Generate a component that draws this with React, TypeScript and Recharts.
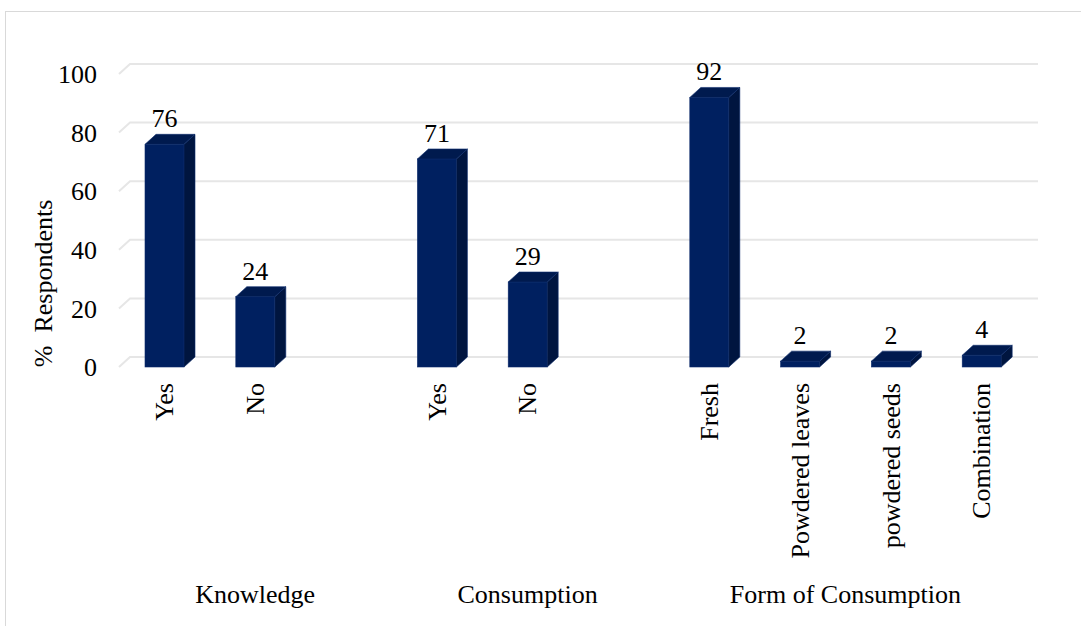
import React from "react"
import { BarChart, Bar, XAxis, YAxis, CartesianGrid, LabelList, Label } from "recharts"

const categories = ["Yes", "No", "", "Yes", "No", "", "Fresh", "Powdered leaves", "powdered seeds", "Combination"]
const respondents = [76, 24, null, 71, 29, null, 92, 2, 2, 4]
const groupNames = ["Knowledge", "Consumption", "Form of Consumption"]
const groupStarts = [0, 3, 6]
const groupSizes = [3, 3, 4]
const yTicks = [0, 20, 40, 60, 80, 100]

const chartData = categories.map((name, i) => ({ key: `c${i}`, name, value: respondents[i] }))

const W = 1081
const H = 626
const M = { top: 74, right: 54, bottom: 0, left: 0 }
const Y_AXIS_W = 119
const X_AXIS_H = 259
const DX = 11
const DY = 10
const FONT = "Liberation Serif, Times New Roman, Times, DejaVu Serif, serif"
const FS = 26

const FRONT = "#002060"
const SIDE = "#00153f"
const TOP = "#001a4e"

const txt = { fontFamily: FONT, fontSize: FS, fill: "#000" }

const slotWidth = (W - M.left - M.right - Y_AXIS_W) / categories.length

function Bar3D(props: any) {
  const { x, y, width, height } = props
  if (height == null || width == null || props.value == null) return null
  return (
    <g>
      <rect x={x} y={y} width={width} height={height} fill={FRONT} stroke="#0c2b6b" strokeWidth={0.6} />
      <polygon
        points={`${x + width},${y} ${x + width + DX},${y - DY} ${x + width + DX},${y + height - DY} ${x + width},${y + height}`}
        fill={SIDE}
        stroke="#0c2b6b"
        strokeWidth={0.6}
      />
      <polygon
        points={`${x},${y} ${x + DX},${y - DY} ${x + width + DX},${y - DY} ${x + width},${y}`}
        fill={TOP}
        stroke="#0c2b6b"
        strokeWidth={0.6}
      />
    </g>
  )
}

function ValueLabel(props: any) {
  const { x, y, width, value } = props
  if (value == null) return null
  return (
    <text x={x + width / 2} y={y - DY - 7} textAnchor="middle" style={txt}>
      {value}
    </text>
  )
}

function CategoryTick(props: any) {
  const { x, y, payload } = props
  const i = payload.index
  const label = categories[i]
  const g = groupStarts.indexOf(i)
  return (
    <g>
      {label && (
        <text
          x={x}
          y={y + 16}
          dy="0.34em"
          textAnchor="end"
          transform={`rotate(-90, ${x}, ${y + 16})`}
          style={txt}
        >
          {label}
        </text>
      )}
      {g >= 0 && (
        <text x={x + ((groupSizes[g] - 1) / 2) * slotWidth} y={y + 236} textAnchor="middle" style={txt}>
          {groupNames[g]}
        </text>
      )}
    </g>
  )
}

function GridLine(props: any) {
  const { x1, y1, x2, y2, key } = props
  return (
    <polyline
      key={key}
      points={`${x1},${y1} ${x1 + DX},${y1 - DY} ${x2 + DX},${y2 - DY}`}
      fill="none"
      stroke="#e6e6e6"
      strokeWidth={2}
    />
  )
}

function YTitle(props: any) {
  const { viewBox } = props
  const cx = 43
  const cy = viewBox.y + viewBox.height * 0.715
  return (
    <text
      x={cx}
      y={cy}
      dy="0.34em"
      textAnchor="middle"
      transform={`rotate(-90, ${cx}, ${cy})`}
      style={{ ...txt, whiteSpace: "pre" }}
    >
      {"%  Respondents"}
    </text>
  )
}

export default function App() {
  return (
    <div
      style={{
        position: "absolute",
        left: 0,
        top: 0,
        width: W,
        height: H,
        background: "#fff",
        overflow: "hidden",
        fontFamily: FONT,
      }}
    >
      <div
        style={{
          position: "absolute",
          left: 5,
          top: 11,
          width: 1120,
          height: 660,
          border: "1.5px solid #d9d9d9",
        }}
      />
      <div style={{ position: "absolute", left: 0, top: 0 }}>
        <BarChart width={W} height={H} data={chartData} margin={M} barSize={39}>
          <CartesianGrid vertical={false} horizontal={GridLine} />
          <XAxis
            dataKey="key"
            interval={0}
            tickLine={false}
            axisLine={false}
            tickSize={0}
            tickMargin={0}
            height={X_AXIS_H}
            tick={CategoryTick}
          />
          <YAxis
            domain={[0, 100]}
            ticks={yTicks}
            width={Y_AXIS_W}
            tickLine={false}
            axisLine={false}
            tickSize={0}
            tickMargin={22}
            tick={{ style: txt, fontFamily: FONT, fontSize: FS, fill: "#000" }}
          >
            <Label content={YTitle} />
          </YAxis>
          <Bar dataKey="value" shape={Bar3D} isAnimationActive={false}>
            <LabelList dataKey="value" content={ValueLabel} />
          </Bar>
        </BarChart>
      </div>
    </div>
  )
}
